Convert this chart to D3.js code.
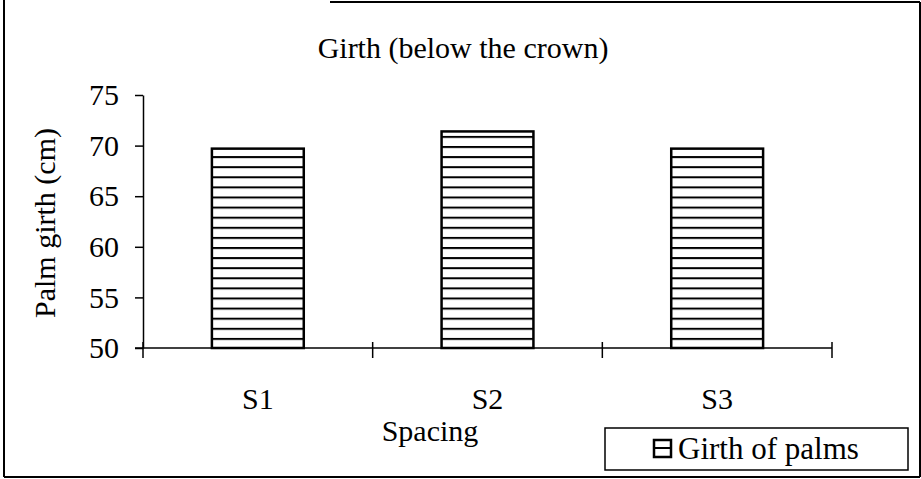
<!DOCTYPE html>
<html>
<head>
<meta charset="utf-8">
<script src="https://cdn.jsdelivr.net/npm/d3@7"></script>
<style>
  html, body { margin: 0; padding: 0; background: #fff; }
  svg { display: block; }
  text { font-family: "Liberation Serif", "Times New Roman", serif; fill: #000; }
</style>
</head>
<body>
<svg id="chart" width="921" height="479"></svg>
<script>
// chart data
const categories = ['S1', 'S2', 'S3'];
const girth = [69.7, 71.4, 69.7];
const yTicks = [50, 55, 60, 65, 70, 75];

const W = 921, H = 479;
const FS = '30px';
const plot = { left: 143, right: 832, top: 95, bottom: 348 };

const svg = d3.select('#chart');

// hatch pattern for bars
const defs = svg.append('defs');
const pat = defs.append('pattern')
  .attr('id', 'hatch')
  .attr('patternUnits', 'userSpaceOnUse')
  .attr('width', 20).attr('height', 10.1)
  .attr('y', plot.bottom);
pat.append('rect').attr('width', 20).attr('height', 10.1).attr('fill', '#fff');
pat.append('rect').attr('y', 0).attr('width', 20).attr('height', 2).attr('fill', '#000');

// outer frame (top edge is partly missing in the scan)
const frame = svg.append('g').attr('stroke', '#000').attr('stroke-width', 2);
frame.append('line').attr('x1', 4).attr('y1', 0).attr('x2', 4).attr('y2', 477);
frame.append('line').attr('x1', 4).attr('y1', 477).attr('x2', 920).attr('y2', 477);
frame.append('line').attr('x1', 920).attr('y1', 2).attr('x2', 920).attr('y2', 477);
frame.append('line').attr('x1', 330).attr('y1', 2).attr('x2', 920).attr('y2', 2);

const x = d3.scaleBand()
  .domain(categories)
  .range([plot.left, plot.right])
  .paddingInner(0.6).paddingOuter(0.3);

const y = d3.scaleLinear()
  .domain([50, 75])
  .range([plot.bottom, plot.top]);

// bars
svg.append('g').selectAll('rect')
  .data(categories)
  .enter().append('rect')
  .attr('x', d => x(d))
  .attr('y', (d, i) => y(girth[i]))
  .attr('width', x.bandwidth())
  .attr('height', (d, i) => y(50) - y(girth[i]))
  .attr('fill', 'url(#hatch)')
  .attr('stroke', '#000').attr('stroke-width', 2.5);

// y axis
const yAxis = svg.append('g')
  .attr('transform', `translate(${plot.left},0)`)
  .call(d3.axisLeft(y).tickValues(yTicks).tickSize(8).tickSizeOuter(0).tickPadding(16));
yAxis.select('.domain').attr('stroke-width', 1.5);
yAxis.selectAll('.tick line').attr('stroke-width', 1.5);
yAxis.selectAll('.tick text')
  .style('font-family', '"Liberation Serif", serif').style('font-size', FS);

// x axis line + crossing ticks at category boundaries
const xg = svg.append('g').attr('stroke', '#000').attr('stroke-width', 1.5);
xg.append('line')
  .attr('x1', plot.left - 8).attr('x2', plot.right)
  .attr('y1', plot.bottom).attr('y2', plot.bottom);
const step = x.step();
const bounds = d3.range(categories.length + 1).map(i => plot.left + i * step);
xg.selectAll('.xt').data(bounds).enter().append('line')
  .attr('x1', d => d).attr('x2', d => d)
  .attr('y1', plot.bottom - 6).attr('y2', plot.bottom + 10);

// category labels
svg.append('g').selectAll('text')
  .data(categories)
  .enter().append('text')
  .attr('x', d => x(d) + x.bandwidth() / 2)
  .attr('y', 409)
  .attr('text-anchor', 'middle')
  .style('font-size', FS)
  .text(d => d);

// title
svg.append('text')
  .attr('x', 463).attr('y', 58)
  .attr('text-anchor', 'middle')
  .style('font-size', FS)
  .text('Girth (below the crown)');

// axis titles
svg.append('text')
  .attr('x', 430).attr('y', 441)
  .attr('text-anchor', 'middle')
  .style('font-size', FS)
  .text('Spacing');

svg.append('text')
  .attr('transform', 'translate(55,223) rotate(-90)')
  .attr('text-anchor', 'middle')
  .style('font-size', FS)
  .text('Palm girth (cm)');

// legend
const lg = svg.append('g');
lg.append('rect')
  .attr('x', 605).attr('y', 428).attr('width', 303).attr('height', 42)
  .attr('fill', '#fff').attr('stroke', '#000').attr('stroke-width', 1.5);
lg.append('rect')
  .attr('x', 654).attr('y', 440).attr('width', 17).attr('height', 17)
  .attr('fill', '#fff').attr('stroke', '#000').attr('stroke-width', 2.5);
lg.append('line')
  .attr('x1', 654).attr('x2', 671).attr('y1', 448).attr('y2', 448)
  .attr('stroke', '#000').attr('stroke-width', 2);
lg.append('text')
  .attr('x', 678).attr('y', 459)
  .style('font-size', '31px')
  .text('Girth of palms');
</script>
</body>
</html>
